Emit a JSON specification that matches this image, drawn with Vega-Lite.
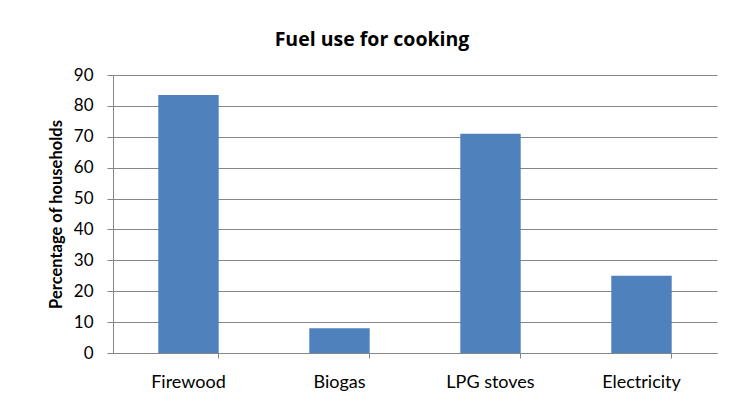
{
  "$schema": "https://vega.github.io/schema/vega-lite/v6.json",
  "autosize": "none",
  "width": 604,
  "height": 278,
  "padding": {"left": 113, "top": 75, "right": 12, "bottom": 56},
  "background": "white",
  "title": {
    "text": "Fuel use for cooking",
    "font": "Open Sans",
    "fontSize": 19.5,
    "fontWeight": "bold",
    "color": "#000000",
    "anchor": "middle",
    "dx": -43,
    "offset": 16
  },
  "data": {
    "values": [
      {"fuel": "Firewood", "pct": 83.5},
      {"fuel": "Biogas", "pct": 8},
      {"fuel": "LPG stoves", "pct": 71},
      {"fuel": "Electricity", "pct": 25}
    ]
  },
  "mark": {"type": "bar", "color": "#4F81BD"},
  "encoding": {
    "x": {
      "field": "fuel",
      "type": "nominal",
      "sort": null,
      "scale": {"paddingInner": 0.6, "paddingOuter": 0.3},
      "axis": {
        "title": null,
        "labelAngle": 0,
        "labelFont": "Lato",
        "labelFontSize": 18,
        "labelColor": "#000000",
        "labelPadding": 15,
        "bandPosition": 1,
        "tickSize": 5,
        "tickColor": "#868686",
        "domainColor": "#868686",
        "grid": false
      }
    },
    "y": {
      "field": "pct",
      "type": "quantitative",
      "scale": {"domain": [0, 90]},
      "axis": {
        "title": "Percentage of households",
        "titleFont": "Lato",
        "titleFontSize": 16.5,
        "titleFontWeight": "bold",
        "titleColor": "#000000",
        "titlePadding": 9,
        "values": [0, 10, 20, 30, 40, 50, 60, 70, 80, 90],
        "labelFont": "Lato",
        "labelFontSize": 17,
        "labelColor": "#000000",
        "labelPadding": 14,
        "tickSize": 6,
        "tickColor": "#868686",
        "domainColor": "#868686",
        "gridColor": "#868686",
        "gridOpacity": 1
      }
    }
  },
  "config": {"view": {"stroke": null}}
}
